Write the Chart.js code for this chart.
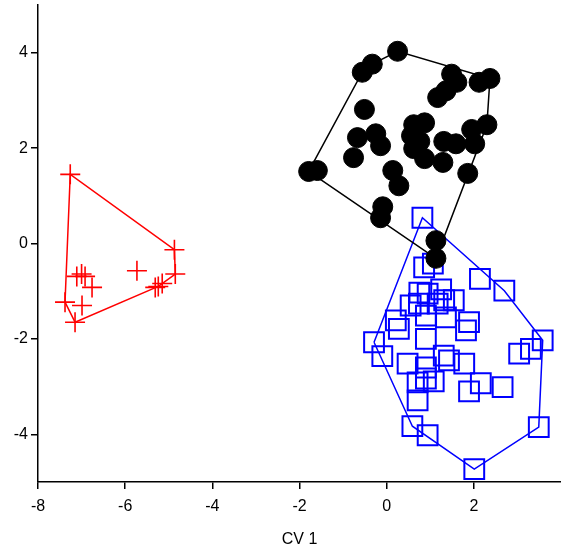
<!DOCTYPE html>
<html>
<head>
<meta charset="utf-8">
<script src="https://cdn.jsdelivr.net/npm/chart.js@4/dist/chart.umd.min.js"></script>
<style>
  html, body { margin: 0; padding: 0; background: #fff; }
  #wrap { width: 561px; height: 549px; }
</style>
</head>
<body>
<div id="wrap"><canvas id="c" width="561" height="549"></canvas></div>
<script>
// Axis tick values
const xTicks = [-8, -6, -4, -2, 0, 2];
const yTicks = [-4, -2, 0, 2, 4];

// Group 1 (black filled circles): CV 1 / CV 2 scores
const blackCv1 = [0.25, -0.33, -0.56, 1.49, 1.61, 1.36, 1.17, 2.12, 2.37, -0.51, 2.30, 0.62,
  0.87, 0.57, 0.76, 0.62, 0.87, 1.29, 1.31, 1.59, 1.95, 2.02, -0.67, -0.25, -0.14, -0.76,
  0.14, 0.28, -0.09, -0.14, 1.13, 1.13, -1.79, -1.59, 1.86];
const blackCv2 = [4.03, 3.76, 3.59, 3.55, 3.38, 3.20, 3.06, 3.38, 3.46, 2.81, 2.49, 2.49,
  2.53, 2.26, 2.14, 1.99, 1.78, 1.70, 2.14, 2.09, 2.39, 2.09, 2.22, 2.30, 2.05, 1.80,
  1.53, 1.21, 0.77, 0.54, 0.06, -0.31, 1.51, 1.53, 1.47];

// Group 2 (blue open squares)
const blueCv1 = [0.82, 0.86, 1.06, 2.14, 2.70, 0.75, 1.25, 0.94, 1.32, 1.54, 1.17, 0.74,
  0.55, 0.90, 1.36, 0.21, 0.28, 1.89, 1.82, 0.90, -0.29, -0.10, 1.31, 1.43, 1.78, 0.48,
  0.90, 0.90, 1.08, 0.71, 3.04, 3.31, 3.58, 1.89, 2.16, 2.66, 0.71, 0.59, 0.94, 3.49, 2.01];
const blueCv2 = [0.54, -0.50, -0.42, -0.74, -0.99, -1.03, -0.96, -1.05, -1.19, -1.19, -1.26, -1.26,
  -1.30, -1.51, -1.55, -1.61, -1.79, -1.65, -1.82, -2.00, -2.07, -2.36, -2.35, -2.45, -2.52, -2.52,
  -2.60, -2.83, -2.89, -2.91, -2.31, -2.21, -2.03, -3.10, -2.93, -3.01, -3.29, -3.83, -4.02, -3.85, -4.73];

// Group 3 (red crosses)
const redCv1 = [-7.26, -4.87, -4.85, -5.73, -5.24, -5.15, -5.31, -7.11, -7.00, -6.92, -6.76, -6.99, -7.38, -7.15];
const redCv2 = [1.45, -0.13, -0.64, -0.57, -0.90, -0.84, -0.92, -0.69, -0.64, -0.69, -0.92, -1.30, -1.23, -1.65];

function toPoints(xs, ys) {
  return xs.map((x, i) => ({ x: x, y: ys[i] }));
}

// Convex hull (monotone chain), returned as a closed ring
function convexHull(points) {
  const p = points.slice().sort((a, b) => a.x - b.x || a.y - b.y);
  const cross = (o, a, b) => (a.x - o.x) * (b.y - o.y) - (a.y - o.y) * (b.x - o.x);
  const lower = [];
  for (const pt of p) {
    while (lower.length >= 2 && cross(lower[lower.length - 2], lower[lower.length - 1], pt) <= 0) lower.pop();
    lower.push(pt);
  }
  const upper = [];
  for (let i = p.length - 1; i >= 0; i--) {
    const pt = p[i];
    while (upper.length >= 2 && cross(upper[upper.length - 2], upper[upper.length - 1], pt) <= 0) upper.pop();
    upper.push(pt);
  }
  upper.pop();
  lower.pop();
  const ring = lower.concat(upper);
  ring.push(ring[0]);
  return ring;
}

const blackPts = toPoints(blackCv1, blackCv2);
const bluePts = toPoints(blueCv1, blueCv2);
const redPts = toPoints(redCv1, redCv2);

const BLACK = '#000000';
const BLUE = '#0000ff';
const RED = '#ff0000';
const FONT = { family: '"Liberation Sans", Arial, sans-serif', size: 16 };

function hullSet(pts, color) {
  return {
    data: convexHull(pts), showLine: true, borderColor: color, borderWidth: 1.5,
    pointRadius: 0, fill: false, tension: 0
  };
}

new Chart(document.getElementById('c'), {
  type: 'scatter',
  data: {
    datasets: [
      { data: blackPts, pointStyle: 'circle', pointRadius: 10, borderWidth: 1,
        borderColor: BLACK, backgroundColor: BLACK },
      hullSet(blackPts, BLACK),
      { data: bluePts, pointStyle: 'rect', pointRadius: 14, borderWidth: 2,
        borderColor: BLUE, backgroundColor: 'rgba(0,0,0,0)' },
      hullSet(bluePts, BLUE),
      { data: redPts, pointStyle: 'cross', pointRadius: 10, borderWidth: 1.6,
        borderColor: RED, backgroundColor: RED },
      hullSet(redPts, RED)
    ]
  },
  options: {
    responsive: false,
    animation: false,
    devicePixelRatio: 1,
    layout: { autoPadding: false, padding: { top: 5, right: 0, bottom: 0, left: 0 } },
    plugins: { legend: { display: false }, tooltip: { enabled: false } },
    scales: {
      x: {
        type: 'linear', min: -8, max: 4,
        afterBuildTicks: s => { s.ticks = xTicks.map(v => ({ value: v })); },
        afterFit: s => { s.height = 67; s.paddingLeft = 0; s.paddingRight = 0; },
        grid: { drawOnChartArea: false, drawTicks: true, tickLength: 7, color: BLACK, lineWidth: 1.5 },
        border: { display: true, color: BLACK, width: 1.5 },
        ticks: { color: '#000', font: FONT, padding: 8, maxRotation: 0, autoSkip: false },
        title: { display: true, text: 'CV 1', color: '#000', font: FONT, padding: { top: 0, bottom: 0 } }
      },
      y: {
        type: 'linear', min: -5, max: 5,
        afterBuildTicks: s => { s.ticks = yTicks.map(v => ({ value: v })); },
        afterFit: s => { s.width = 38; s.paddingTop = 0; s.paddingBottom = 0; },
        grid: { drawOnChartArea: false, drawTicks: true, tickLength: 7, color: BLACK, lineWidth: 1.5 },
        border: { display: true, color: BLACK, width: 1.5 },
        ticks: { color: '#000', font: FONT, padding: 3, autoSkip: false }
      }
    }
  }
});
</script>
</body>
</html>
